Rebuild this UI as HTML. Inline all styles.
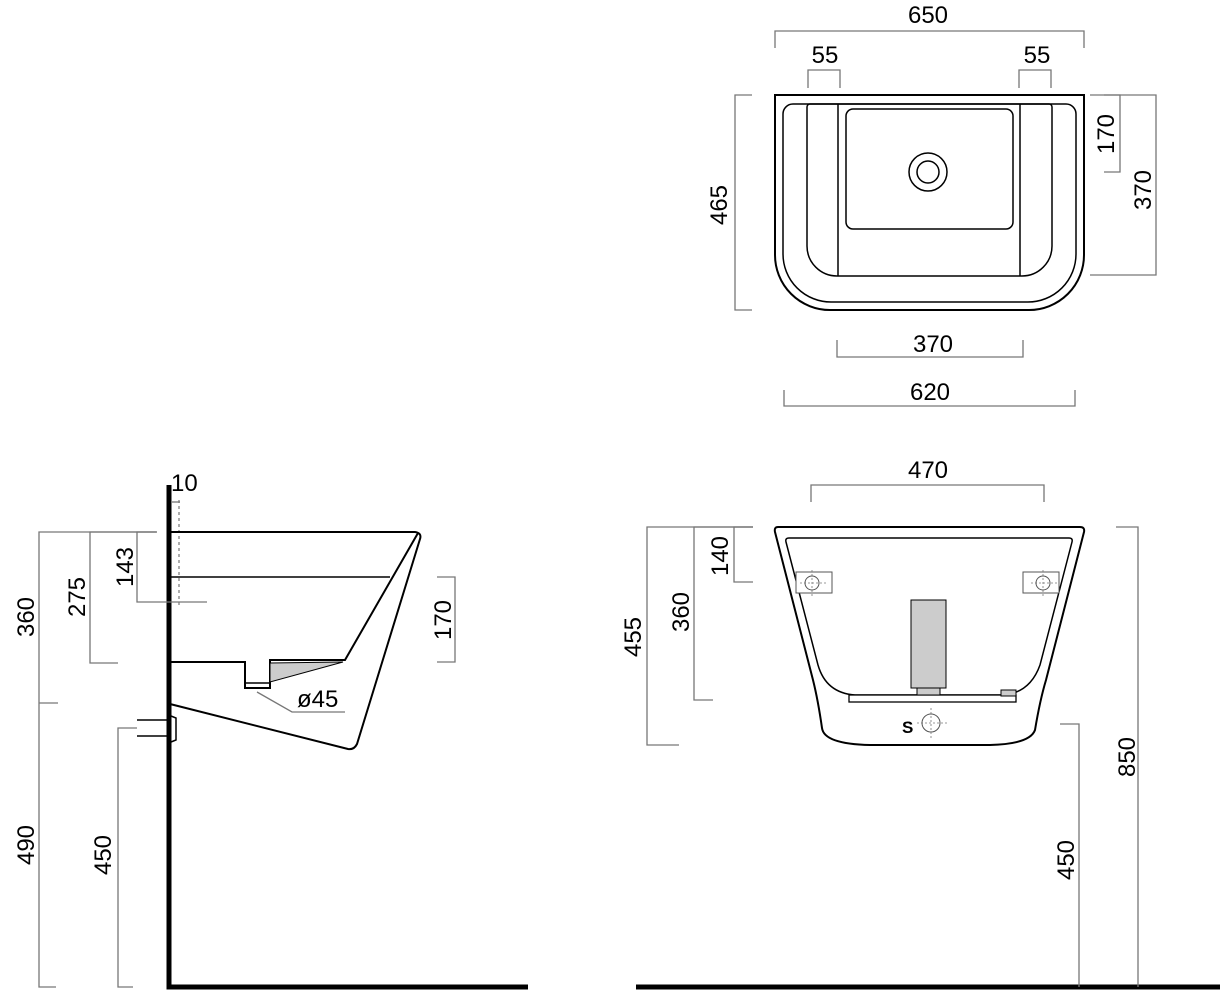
<!DOCTYPE html>
<html><head><meta charset="utf-8"><style>
html,body{margin:0;padding:0;background:#fff;}
svg{display:block;}
text{font-family:"Liberation Sans",sans-serif;font-size:24px;fill:#000;}
.d{stroke:#777;stroke-width:1.3;fill:none;}
.o{stroke:#000;stroke-width:2;fill:none;}
.t{stroke:#000;stroke-width:1.5;fill:none;}
</style></head><body>
<svg width="1220" height="1000" viewBox="0 0 1220 1000" xmlns="http://www.w3.org/2000/svg">
<!-- TOP VIEW -->
<path class="o" d="M775,95 H1084 V255 A55,55 0 0 1 1029,310 H830 A55,55 0 0 1 775,255 Z"/>
<path class="t" d="M793,104 H1066 A10,10 0 0 1 1076,114 V254 A48,48 0 0 1 1028,302 H831 A48,48 0 0 1 783,254 V114 A10,10 0 0 1 793,104 Z"/>
<path class="t" d="M810,104 H1049 A3,3 0 0 1 1052,107 V246 A30,30 0 0 1 1022,276 H837 A30,30 0 0 1 807,246 V107 A3,3 0 0 1 810,104 Z"/>
<path class="t" d="M838,104 V276 M1020,104 V276"/>
<rect class="t" x="846" y="109" width="167" height="120" rx="7"/>
<circle class="t" cx="928" cy="172" r="19"/>
<circle class="t" cx="928" cy="172" r="11"/>
<path class="d" d="M775,48 V31 H1084 V48"/>
<text x="928" y="23" text-anchor="middle">650</text>
<path class="d" d="M808,88 V70 H840 V88"/>
<text x="825" y="63" text-anchor="middle">55</text>
<path class="d" d="M1019,88 V70 H1051 V88"/>
<text x="1037" y="63" text-anchor="middle">55</text>
<path class="d" d="M752,95 H735 V310 H752"/>
<text transform="translate(727,205) rotate(-90)" text-anchor="middle">465</text>
<path class="d" d="M1104,95 H1120 V172 H1104"/>
<text transform="translate(1114,134) rotate(-90)" text-anchor="middle">170</text>
<path class="d" d="M1090,95 H1156 V275 H1090"/>
<text transform="translate(1151,190) rotate(-90)" text-anchor="middle">370</text>
<path class="d" d="M837,340 V357 H1023 V340"/>
<text x="933" y="352" text-anchor="middle">370</text>
<path class="d" d="M784,390 V406 H1075 V390"/>
<text x="930" y="400" text-anchor="middle">620</text>

<!-- SIDE VIEW -->
<path d="M169,485 V987 H528" stroke="#000" stroke-width="5" fill="none"/>
<path d="M179,500 V608" stroke="#777" stroke-width="1.2" stroke-dasharray="3,3" fill="none"/>
<path class="d" d="M172,502 H180"/>
<path class="o" d="M170,532 H415 Q422,533 420,539 L357,744 Q354,750 348,749 L170,704"/>
<path class="o" d="M418,533 L345,660 H270 V688 H245 V662 H170"/>
<path class="t" d="M170,577 H390"/>
<polygon points="270,663 343,662 270,682" fill="#ccc" stroke="#000" stroke-width="1"/>
<path class="t" d="M246,683 H269"/>
<path class="d" d="M257,692 L292,712 H345"/>
<text x="297" y="707">ø45</text>
<path class="t" d="M137,720 H170 M137,736 H170"/>
<path class="t" d="M171,716 L176,718 V740 L171,742"/>
<path class="d" d="M157,532 H39 V987 H56 M39,703 H58"/>
<text transform="translate(34,617) rotate(-90)" text-anchor="middle">360</text>
<text transform="translate(34,845) rotate(-90)" text-anchor="middle">490</text>
<path class="d" d="M157,532 H90 V663 H118"/>
<text transform="translate(85,597) rotate(-90)" text-anchor="middle">275</text>
<path class="d" d="M156,532 H137 V602 H207"/>
<text transform="translate(133,567) rotate(-90)" text-anchor="middle">143</text>
<path class="d" d="M437,577 H455 V662 H437"/>
<text transform="translate(451,620) rotate(-90)" text-anchor="middle">170</text>
<path class="d" d="M137,728 H118 V987 H133"/>
<text transform="translate(111,855) rotate(-90)" text-anchor="middle">450</text>
<text x="171" y="491">10</text>

<!-- FRONT VIEW -->
<path d="M636,987 H1220" stroke="#000" stroke-width="5" fill="none"/>
<path class="o" d="M778,527 H1080 Q1085,527 1084,532 L1046,680 Q1040,700 1035,730 Q1030,744 990,745 H870 Q824,744 822,728 Q818,700 813,680 L775,532 Q774,527 778,527 Z"/>
<path class="t" d="M789,538 H1069 Q1073,538 1072,542 L1040,665 Q1030,693 1003,695 H855 Q826,693 818,665 L786,542 Q785,538 789,538 Z"/>
<rect x="849" y="695" width="167" height="7" fill="#fff" stroke="#000" stroke-width="1.3"/>
<rect x="911" y="600" width="35" height="88" fill="#ccc" stroke="#000" stroke-width="1"/>
<rect x="917" y="688" width="23" height="7" fill="#ccc" stroke="#000" stroke-width="1"/>
<rect x="1001" y="690" width="15" height="6" fill="#ccc" stroke="#000" stroke-width="1"/>
<rect x="796" y="572" width="36" height="21" fill="#fff" stroke="#555" stroke-width="1"/>
<circle cx="812" cy="583" r="7" fill="none" stroke="#555" stroke-width="1"/>
<path d="M800,583 H826 M812,570 V596" stroke="#777" stroke-width="0.8" stroke-dasharray="2,2"/>
<rect x="1023" y="572" width="36" height="21" fill="#fff" stroke="#555" stroke-width="1"/>
<circle cx="1043" cy="583" r="7" fill="none" stroke="#555" stroke-width="1"/>
<path d="M1031,583 H1057 M1043,570 V596" stroke="#777" stroke-width="0.8" stroke-dasharray="2,2"/>
<text x="902" y="733" style="font-weight:bold;font-size:17px">S</text>
<circle cx="931" cy="723" r="9" fill="none" stroke="#555" stroke-width="1"/>
<path d="M917,723 H948 M931,708 V740" stroke="#777" stroke-width="0.8" stroke-dasharray="2,2"/>
<path class="d" d="M811,502 V485 H1044 V502"/>
<text x="928" y="478" text-anchor="middle">470</text>
<path class="d" d="M753,527 H734 V582 H753"/>
<text transform="translate(728,556) rotate(-90)" text-anchor="middle">140</text>
<path class="d" d="M753,527 H694 V700 H713"/>
<text transform="translate(689,612) rotate(-90)" text-anchor="middle">360</text>
<path class="d" d="M753,527 H647 V745 H679"/>
<text transform="translate(641,637) rotate(-90)" text-anchor="middle">455</text>
<path class="d" d="M1116,527 H1138 V987"/>
<text transform="translate(1135,757) rotate(-90)" text-anchor="middle">850</text>
<path class="d" d="M1060,724 H1079 V987"/>
<text transform="translate(1074,860) rotate(-90)" text-anchor="middle">450</text>
</svg>
</body></html>
